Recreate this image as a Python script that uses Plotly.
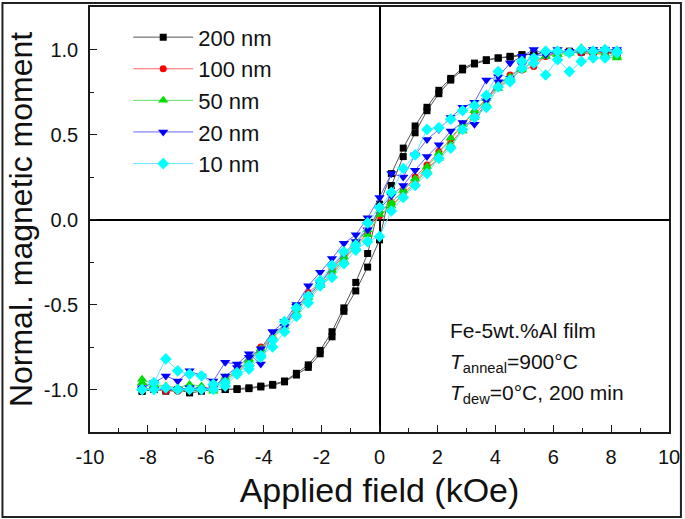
import plotly.graph_objects as go

# Field grid (kOe) shared by every loop branch
FIELD = [-8.2, -7.79, -7.38, -6.97, -6.56, -6.15, -5.74, -5.33, -4.92, -4.51,
         -4.1, -3.69, -3.28, -2.87, -2.46, -2.05, -1.64, -1.23, -0.82, -0.41,
         0.0, 0.41, 0.82, 1.23, 1.64, 2.05, 2.46, 2.87, 3.28, 3.69,
         4.1, 4.51, 4.92, 5.33, 5.74, 6.15, 6.56, 6.97, 7.38, 7.79, 8.2]

# Normalised moment, ascending ("up") and descending ("down") branches
M200_UP = [-1.01, -1.00, -1.01, -1.00, -1.02, -1.01, -1.00, -1.00, -1.00, -0.995,
           -0.985, -0.975, -0.955, -0.915, -0.87, -0.79, -0.69, -0.54, -0.42, -0.28,
           -0.12, 0.20, 0.37, 0.51, 0.64, 0.74, 0.82, 0.88, 0.915, 0.935,
           0.95, 0.955, 0.965, 0.975, 0.98, 0.985, 0.985, 0.985, 0.985, 0.98, 0.98]
M200_DOWN = [-1.01, -1.00, -1.00, -1.00, -1.01, -1.00, -1.00, -1.00, -0.995, -0.99,
             -0.98, -0.97, -0.95, -0.905, -0.855, -0.77, -0.66, -0.52, -0.37, -0.20,
             0.09, 0.27, 0.42, 0.55, 0.66, 0.76, 0.83, 0.89, 0.92, 0.94,
             0.95, 0.96, 0.97, 0.975, 0.98, 0.985, 0.99, 0.99, 0.99, 0.985, 0.98]

M100_UP = [-0.99, -1.00, -1.01, -1.01, -1.00, -1.00, -0.99, -0.94, -0.90, -0.84,
           -0.76, -0.70, -0.62, -0.54, -0.44, -0.38, -0.32, -0.23, -0.15, -0.08,
           0.02, 0.08, 0.15, 0.22, 0.30, 0.36, 0.45, 0.53, 0.61, 0.70,
           0.78, 0.83, 0.88, 0.90, 0.96, 0.98, 0.99, 0.98, 0.97, 0.98, 0.97]
M100_DOWN = [-1.00, -1.00, -1.00, -1.00, -1.00, -0.99, -0.99, -0.93, -0.89, -0.83,
             -0.75, -0.69, -0.61, -0.52, -0.43, -0.37, -0.29, -0.21, -0.14, -0.06,
             0.04, 0.10, 0.17, 0.25, 0.32, 0.40, 0.47, 0.56, 0.63, 0.71,
             0.79, 0.85, 0.89, 0.92, 0.96, 0.98, 0.99, 0.99, 0.98, 0.98, 0.97]

M50_UP = [-0.94, -0.97, -0.98, -0.99, -0.97, -0.98, -1.01, -0.94, -0.90, -0.83,
          -0.77, -0.70, -0.63, -0.55, -0.46, -0.39, -0.33, -0.24, -0.16, -0.09,
          0.03, 0.08, 0.14, 0.21, 0.29, 0.36, 0.44, 0.52, 0.60, 0.68,
          0.77, 0.83, 0.88, 0.93, 0.96, 0.97, 0.98, 1.01, 0.99, 0.96, 0.95]
M50_DOWN = [-0.96, -0.98, -0.99, -1.00, -0.99, -0.99, -1.00, -0.93, -0.89, -0.82,
            -0.76, -0.69, -0.61, -0.53, -0.45, -0.37, -0.30, -0.22, -0.13, -0.06,
            0.05, 0.10, 0.17, 0.24, 0.31, 0.39, 0.48, 0.56, 0.64, 0.71,
            0.79, 0.84, 0.89, 0.93, 0.96, 0.97, 0.98, 0.99, 0.99, 0.97, 0.96]

M20_UP = [-0.99, -0.96, -0.92, -0.95, -0.89, -0.92, -0.95, -0.84, -0.85, -0.79,
          -0.85, -0.66, -0.63, -0.51, -0.45, -0.38, -0.28, -0.20, -0.13, -0.06,
          0.06, 0.14, 0.20, 0.29, 0.37, 0.44, 0.52, 0.57, 0.56, 0.70,
          0.81, 0.83, 0.91, 0.96, 0.97, 0.98, 0.99, 0.99, 0.99, 0.99, 0.99]
M20_DOWN = [-1.00, -1.00, -1.00, -1.00, -0.99, -1.00, -0.99, -0.92, -0.87, -0.81,
            -0.76, -0.66, -0.60, -0.50, -0.39, -0.31, -0.23, -0.14, -0.09, 0.01,
            0.13, 0.27, 0.25, 0.38, 0.47, 0.53, 0.60, 0.66, 0.69, 0.82,
            0.84, 0.92, 0.96, 1.00, 0.97, 1.00, 0.98, 0.99, 1.00, 1.00, 1.00]

M10_UP = [-1.00, -0.96, -0.82, -0.89, -0.91, -0.92, -0.97, -0.96, -0.90, -0.86,
          -0.80, -0.75, -0.66, -0.57, -0.49, -0.39, -0.34, -0.26, -0.18, -0.13,
          -0.10, 0.05, 0.13, 0.20, 0.27, 0.36, 0.42, 0.53, 0.60, 0.66,
          0.78, 0.81, 0.89, 0.92, 0.85, 0.94, 0.87, 0.93, 0.95, 0.95, 0.98]
M10_DOWN = [-1.00, -1.00, -0.99, -1.00, -1.00, -1.00, -1.00, -0.98, -0.91, -0.88,
            -0.81, -0.71, -0.60, -0.52, -0.45, -0.36, -0.27, -0.19, -0.15, -0.02,
            0.07, 0.16, 0.30, 0.38, 0.53, 0.54, 0.59, 0.64, 0.67, 0.73,
            0.87, 0.82, 0.93, 0.95, 0.99, 0.99, 0.98, 1.00, 0.99, 1.00, 0.99]

SERIES_NAMES = ["200 nm", "100 nm", "50 nm", "20 nm", "10 nm"]
SERIES_UP = [M200_UP, M100_UP, M50_UP, M20_UP, M10_UP]
SERIES_DOWN = [M200_DOWN, M100_DOWN, M50_DOWN, M20_DOWN, M10_DOWN]
SERIES_COLORS = ["#000000", "#ff0000", "#00dd00", "#0000ff", "#00ffff"]
LINE_COLORS = ["#555555", "#ff6666", "#66dd66", "#6666ff", "#66e6ff"]
SERIES_SYMBOLS = ["square", "circle", "triangle-up", "triangle-down", "diamond"]
SERIES_SIZES = [7, 7, 9, 9, 9]

X_TICKS = [-10, -8, -6, -4, -2, 0, 2, 4, 6, 8, 10]
X_TICK_LABELS = ["-10", "-8", "-6", "-4", "-2", "0", "2", "4", "6", "8", "10"]
Y_TICKS = [-1.0, -0.5, 0.0, 0.5, 1.0]
Y_TICK_LABELS = ["-1.0", "-0.5", "0.0", "0.5", "1.0"]

FONT = "Liberation Sans, Arial, sans-serif"

fig = go.Figure()
for name, up, down, col, lcol, sym, sz in zip(SERIES_NAMES, SERIES_UP, SERIES_DOWN,
                                             SERIES_COLORS, LINE_COLORS,
                                             SERIES_SYMBOLS, SERIES_SIZES):
    xs = FIELD + FIELD[::-1]
    ys = up + down[::-1]
    fig.add_trace(go.Scatter(
        x=xs, y=ys, name=name, mode="lines+markers",
        line=dict(color=lcol, width=1),
        marker=dict(symbol=sym, size=sz, color=col, line=dict(width=0)),
    ))

axis_common = dict(
    showline=True, linecolor="#1a1a1a", linewidth=1.5, mirror=True,
    ticks="inside", ticklen=7, tickwidth=1.2, tickcolor="#1a1a1a",
    showgrid=False, zeroline=True, zerolinecolor="#000000", zerolinewidth=1.5,
    tickfont=dict(family=FONT, size=20, color="#111111"),
)

fig.update_xaxes(
    range=[-10, 10], tickmode="array", tickvals=X_TICKS, ticktext=X_TICK_LABELS,
    minor=dict(ticks="inside", ticklen=4, dtick=1, tick0=0, tickcolor="#1a1a1a"),
    title=dict(text="Applied field (kOe)", font=dict(family=FONT, size=34, color="#111111"),
               standoff=11),
    ticklabelstandoff=6,
    **axis_common,
)
fig.update_yaxes(
    range=[-1.25, 1.25], tickmode="array", tickvals=Y_TICKS, ticktext=Y_TICK_LABELS,
    minor=dict(ticks="inside", ticklen=4, dtick=0.25, tick0=0, tickcolor="#1a1a1a"),
    title=dict(text="Normal. magnetic moment", font=dict(family=FONT, size=32, color="#111111"),
               standoff=2),
    ticklabelstandoff=6,
    **axis_common,
)

fig.update_layout(
    width=685, height=519,
    margin=dict(l=90, r=13, t=5, b=87),
    paper_bgcolor="white", plot_bgcolor="white",
    showlegend=True,
    legend=dict(x=0.066, y=0.978, xanchor="left", yanchor="top",
                bgcolor="rgba(0,0,0,0)", itemwidth=60,
                font=dict(family=FONT, size=22, color="#111111")),
    annotations=[
        dict(xref="paper", yref="paper", x=0.618, y=0.24, xanchor="left", yanchor="middle",
             text="Fe-5wt.%Al film", showarrow=False,
             font=dict(family=FONT, size=21, color="#111111")),
        dict(xref="paper", yref="paper", x=0.618, y=0.163, xanchor="left", yanchor="middle",
             text="<i>T</i><sub>anneal</sub>=900°C", showarrow=False,
             font=dict(family=FONT, size=21, color="#111111")),
        dict(xref="paper", yref="paper", x=0.618, y=0.09, xanchor="left", yanchor="middle",
             text="<i>T</i><sub>dew</sub>=0°C, 200 min", showarrow=False,
             font=dict(family=FONT, size=21, color="#111111")),
    ],
    shapes=[
        dict(type="rect", xref="paper", yref="paper",
             x0=-0.1512, x1=1.0206, y0=-0.2002, y1=1.0094,
             line=dict(color="#222222", width=2), fillcolor="rgba(0,0,0,0)", layer="above"),
    ],
)

fig.write_html("out.html",
               config={"displayModeBar": False},
               post_script="document.body.style.margin='0';document.body.style.overflow='hidden';")
